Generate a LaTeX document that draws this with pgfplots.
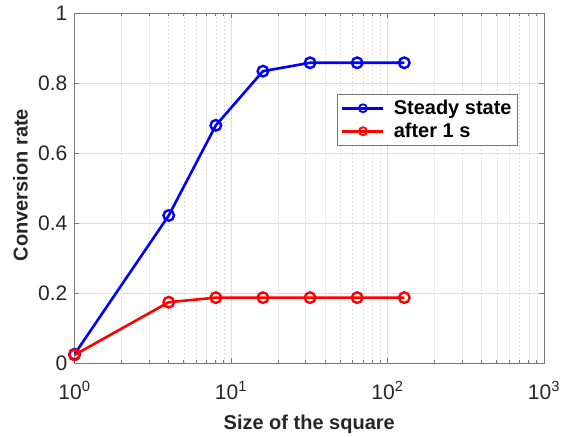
\documentclass[border=0pt]{standalone}
\usepackage{pgfplots}
\pgfplotsset{compat=1.18}
\usepackage{fontspec}
\setmainfont{Liberation Sans}
\definecolor{axgray}{RGB}{120,120,120}
\definecolor{txt}{RGB}{38,38,38}
\definecolor{gridc}{RGB}{222,222,222}
\begin{document}
\begin{tikzpicture}
\path[use as bounding box] (-74.5bp,-74bp) rectangle (486.5bp,363bp);
\begin{axis}[
  at={(0,0)}, anchor=south west,
  scale only axis, width=469.5bp, height=349.5bp,
  xmode=log, xmin=1, xmax=1000, ymin=0, ymax=1,
  xtick={1,10,100,1000},
  xticklabels={10\textsuperscript{0},10\textsuperscript{1},10\textsuperscript{2},10\textsuperscript{3}},
  minor xtick={2,3,4,5,6,7,8,9,20,30,40,50,60,70,80,90,200,300,400,500,600,700,800,900},
  ytick={0,0.2,0.4,0.6,0.8,1},
  yticklabels={0,0.2,0.4,0.6,0.8,1},
  xmajorgrids, xminorgrids, ymajorgrids,
  major grid style={gridc, line width=0.6bp},
  minor grid style={gridc, line width=0.6bp, dash pattern=on 2bp off 2bp},
  axis line style={axgray, line width=0.8bp},
  every tick/.style={axgray, line width=0.8bp},
  major tick length=5bp, minor tick length=3bp,
  tick align=inside,
  ticklabel style={font=\fontsize{21bp}{25bp}\selectfont, text=txt},
  xticklabel style={anchor=base, yshift=-36bp},
  yticklabel style={anchor=east, inner xsep=0pt, xshift=-7bp},
  label style={font=\fontsize{20bp}{24bp}\selectfont\bfseries, text=txt},
  xlabel={Size of the square},
  ylabel={Conversion rate},
  xlabel style={at={(axis description cs:0.5,0)}, anchor=base, yshift=-66.5bp},
  ylabel style={at={(axis description cs:-0.115,0.509)}, anchor=center},
  legend style={at={(rel axis cs:0.9446,0.770)}, anchor=north east,
    draw=axgray, line width=0.8bp, fill=white,
    font=\fontsize{20bp}{24bp}\selectfont\bfseries, text=black,
    inner xsep=4bp, inner ysep=4bp, row sep=3bp},
  legend cell align=left,
  legend image code/.code={%
    \draw[mark repeat=2,mark phase=2,mark size=4bp,mark options={line width=1.8bp}] plot coordinates {(0bp,0bp)(20.5bp,0bp)(41bp,0bp)};},
]
\addplot[blue, line width=2.6bp, mark=o, mark size=5.3bp, mark options={solid, line width=2.4bp}]
  coordinates {(1,0.025)(4,0.422)(8,0.680)(16,0.835)(32,0.859)(64,0.859)(128,0.859)};
\addlegendentry{\hspace{7bp}Steady state}
\addplot[red, line width=2.6bp, mark=o, mark size=5.3bp, mark options={solid, line width=2.4bp}]
  coordinates {(1,0.023)(4,0.174)(8,0.187)(16,0.187)(32,0.187)(64,0.187)(128,0.187)};
\addlegendentry{\hspace{7bp}after 1 s}
\end{axis}
\end{tikzpicture}
\end{document}
